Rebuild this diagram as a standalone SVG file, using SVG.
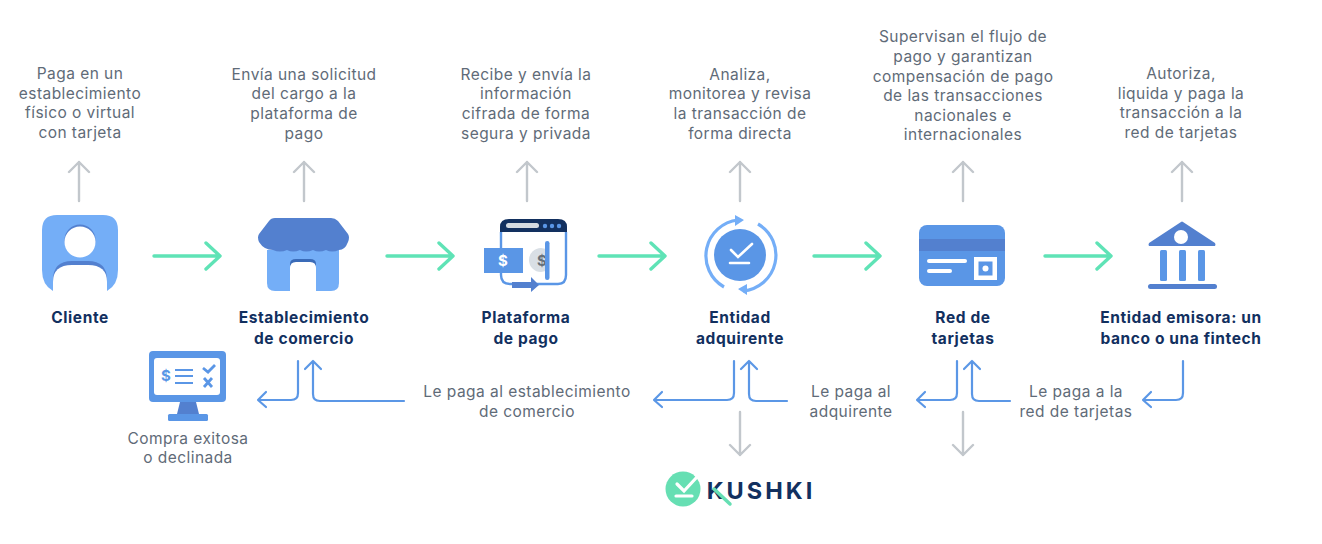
<svg xmlns="http://www.w3.org/2000/svg" width="1322" height="544" viewBox="0 0 1322 544">
<style>
text{font-family:"Inter","Noto Sans","Liberation Sans",sans-serif;text-anchor:middle}
.d{font-size:15.5px;fill:#5f6b78;letter-spacing:.45px}
.t{font-size:15.5px;font-weight:700;fill:#12305f;letter-spacing:.6px}
.g,.m,.b{fill:none;stroke-linecap:round;stroke-linejoin:round}
.g{stroke:#c2c7cc;stroke-width:2.4}
.m{stroke:#5fe3b6;stroke-width:3.4}
.b{stroke:#5b97e6;stroke-width:2.2}
.lb{fill:#74aef7}.mb{fill:#5a96e6}.db{fill:#5380cf}.w{fill:#fff}
</style>
<defs><clipPath id="coin"><rect x="525" y="240" width="24" height="40"/></clipPath></defs>
<g id="connectors">
<path class="g" d="M79 201V162M69 172L79 162L89 172M304 201V162M294 172L304 162L314 172M527 201V162M517 172L527 162L537 172M740 201V162M730 172L740 162L750 172M963 201V162M953 172L963 162L973 172M1182 201V162M1172 172L1182 162L1192 172"/>
<path class="g" d="M740 412V455M730 445L740 455L750 445M963 412V455M953 445L963 455L973 445"/>
<path class="m" d="M154 256H219M206 243L220 256L206 269M387 256H452M439 243L453 256L439 269M599 256H664M651 243L665 256L651 269M814 256H879M866 243L880 256L866 269M1045 256H1110M1097 243L1111 256L1097 269"/>
<path class="b" d="M298 361V393Q298 400 291 400H258M266 392L258 400L266 407"/>
<path class="b" d="M404 401H320Q313 401 313 394V361M305 369L313 361L321 369"/>
<path class="b" d="M734 361V393Q734 400 727 400H654M662 392L654 400L662 407"/>
<path class="b" d="M787 401H756Q749 401 749 394V361M741 369L749 361L757 369"/>
<path class="b" d="M957 361V393Q957 400 950 400H917M925 392L917 400L925 407"/>
<path class="b" d="M1010 401H979Q972 401 972 394V361M964 369L972 361L980 369"/>
<path class="b" d="M1183 361V393Q1183 400 1176 400H1143M1151 392L1143 400L1151 407"/>
</g>
<g id="cliente">
<path class="lb" d="M57 215H103Q118 215 118 230V270Q118 285 107 291H53Q42 285 42 270V230Q42 215 57 215Z"/>
<path class="db" d="M53 291V280Q53 261 72 261H88Q107 261 107 280V291Z"/>
<path class="w" d="M53 292V282Q53 265 72 265H88Q107 265 107 282V292Z"/>
<circle class="db" cx="80" cy="240" r="15.500"/><circle class="w" cx="80" cy="242" r="15.500"/>
<text class="t" x="80" y="323">Cliente</text>
</g>
<g id="establecimiento">
<path class="lb" d="M267 250H339V283Q339 291 331 291H275Q267 291 267 283Z"/>
<path class="db" d="M275 218H331Q335 218 338 221L348 234Q350 237 348 242Q345 250 339 250Q332 253 326 250Q319 253 313 250Q306 253 300 250Q293 253 287 250Q280 253 273 250Q264 250 259 242Q257 237 259 234L269 221Q271 218 275 218Z"/>
<path fill="#3a6bb8" d="M290 264Q290 259 296 259H310Q316 259 316 264V266H290Z"/>
<path class="w" d="M290 292V268Q290 262 296 262H310Q316 262 316 268V292Z"/>
<text class="t" x="304" y="323">Establecimiento</text>
<text class="t" x="304" y="344">de comercio</text>
</g>
<g id="plataforma">
<path fill="none" stroke="#5a96e6" stroke-width="2.4" d="M501 232V275Q501 284 510 284H558Q566 284 566 275V232"/>
<path fill="#12305f" d="M500 232V227Q500 219 509 219H558Q567 219 567 227V232Z"/>
<rect x="506" y="223" width="33" height="5" rx="2.500" fill="#d5dbe2"/>
<circle class="mb" cx="545" cy="226" r="2.200"/><circle class="mb" cx="552" cy="226" r="2.200"/><circle class="mb" cx="559" cy="226" r="2.200"/>
<rect x="484" y="248" width="39" height="25" class="mb"/>
<text x="503" y="266" style="font-size:15px;fill:#fff;font-weight:700">$</text>
<circle cx="541" cy="260" r="12" fill="#d9dfe5" clip-path="url(#coin)"/>
<text x="542" y="266" style="font-size:15px;fill:#66707a;font-weight:700">$</text>
<rect x="545" y="241" width="4.500" height="39" rx="2.200" class="mb"/>
<path class="db" d="M512 282H531V277L539 285L531 292V288H512Z"/>
<text class="t" x="526" y="323">Plataforma</text>
<text class="t" x="526" y="344">de pago</text>
</g>
<g id="adquirente">
<circle class="mb" cx="740" cy="255" r="26"/>
<path fill="none" stroke="#fff" stroke-width="2.600" stroke-linecap="round" d="M731 250L738 257L752 244M730 263H749"/>
<path fill="none" stroke="#74aef7" stroke-width="3.200" d="M724 287A36 36 0 0 1 738 220M758 224A36 36 0 0 1 743 291"/>
<path class="lb" d="M735 215L744 220L735 226ZM747 284L738 289L747 295Z"/>
<text class="t" x="740" y="323">Entidad</text>
<text class="t" x="740" y="344">adquirente</text>
</g>
<g id="red">
<rect x="919" y="225" width="86" height="61" rx="8" class="mb"/>
<rect x="919" y="239" width="86" height="12" class="db"/>
<rect x="927" y="259" width="40" height="4" rx="2" class="w"/>
<rect x="927" y="269" width="25" height="4" rx="2" class="w"/>
<rect x="974" y="257" width="23" height="23" class="w"/>
<rect x="978.500" y="261.500" width="14" height="14" class="mb"/>
<circle class="w" cx="985.500" cy="268.500" r="3"/>
<text class="t" x="963" y="323">Red de</text>
<text class="t" x="963" y="344">tarjetas</text>
</g>
<g id="emisora">
<path class="db" d="M1181 222Q1182 221 1183 222L1215 243Q1216 245 1215 246H1149Q1148 245 1149 243Z"/>
<circle class="w" cx="1181" cy="237" r="7"/>
<rect x="1160" y="250" width="7" height="31" rx="1.500" class="mb"/>
<rect x="1179" y="250" width="7" height="31" rx="1.500" class="mb"/>
<rect x="1198" y="250" width="7" height="31" rx="1.500" class="mb"/>
<rect x="1148" y="284" width="69" height="5" rx="2.500" class="db"/>
<text class="t" x="1181" y="323">Entidad emisora: un</text>
<text class="t" x="1181" y="344">banco o una fintech</text>
</g>
<g id="compra">
<rect x="149" y="351" width="77" height="51" rx="4" class="mb"/>
<rect x="154" y="358" width="66" height="37" rx="3" class="w"/>
<path class="db" d="M180 402H196L199 414H177Z"/>
<rect x="168" y="414" width="40" height="7" rx="1.500" class="mb"/>
<text x="166" y="381" style="font-size:15px;fill:#5a96e6;font-weight:700">$</text>
<path fill="none" stroke="#5a96e6" stroke-width="2" d="M175 370H193M175 376H193M175 383H193"/>
<path fill="none" stroke="#5a96e6" stroke-width="2.800" d="M203 368L208 372L215 365M204 378L212 387M212 378L204 387"/>
<text class="d" x="188" y="444">Compra exitosa</text>
<text class="d" x="188" y="463">o declinada</text>
</g>
<g id="textos">
<text class="d" x="80" y="79">Paga en un</text><text class="d" x="80" y="99">establecimiento</text><text class="d" x="80" y="118">físico o virtual</text><text class="d" x="80" y="138">con tarjeta</text>
<text class="d" x="304" y="80">Envía una solicitud</text><text class="d" x="304" y="99">del cargo a la</text><text class="d" x="304" y="119">plataforma de</text><text class="d" x="304" y="139">pago</text>
<text class="d" x="526" y="80">Recibe y envía la</text><text class="d" x="526" y="99">información</text><text class="d" x="526" y="119">cifrada de forma</text><text class="d" x="526" y="139">segura y privada</text>
<text class="d" x="740" y="80">Analiza,</text><text class="d" x="740" y="99">monitorea y revisa</text><text class="d" x="740" y="119">la transacción de</text><text class="d" x="740" y="139">forma directa</text>
<text class="d" x="963" y="42">Supervisan el flujo de</text><text class="d" x="963" y="62">pago y garantizan</text><text class="d" x="963" y="82">compensación de pago</text><text class="d" x="963" y="101">de las transacciones</text><text class="d" x="963" y="121">nacionales e</text><text class="d" x="963" y="140">internacionales</text>
<text class="d" x="1181" y="79">Autoriza,</text><text class="d" x="1181" y="99">liquida y paga la</text><text class="d" x="1181" y="118">transacción a la</text><text class="d" x="1181" y="138">red de tarjetas</text>
<text class="d" x="527" y="397">Le paga al establecimiento</text><text class="d" x="527" y="417">de comercio</text>
<text class="d" x="851" y="397">Le paga al</text><text class="d" x="851" y="417">adquirente</text>
<text class="d" x="1076" y="397">Le paga a la</text><text class="d" x="1076" y="417">red de tarjetas</text>
</g>
<g id="kushki">
<circle cx="683" cy="489" r="17.500" fill="#66dfb3"/>
<path fill="none" stroke="#fff" stroke-width="3.200" stroke-linecap="round" d="M677 484L684 491L697 477M676 496H692"/>
<text x="761" y="499" style="font-size:23.500px;font-weight:700;fill:#12305f;letter-spacing:3px">KUSHKI</text>
<path fill="none" stroke="#66dfb3" stroke-width="3.500" stroke-linecap="round" d="M714 489L730 504"/>
</g>
</svg>
